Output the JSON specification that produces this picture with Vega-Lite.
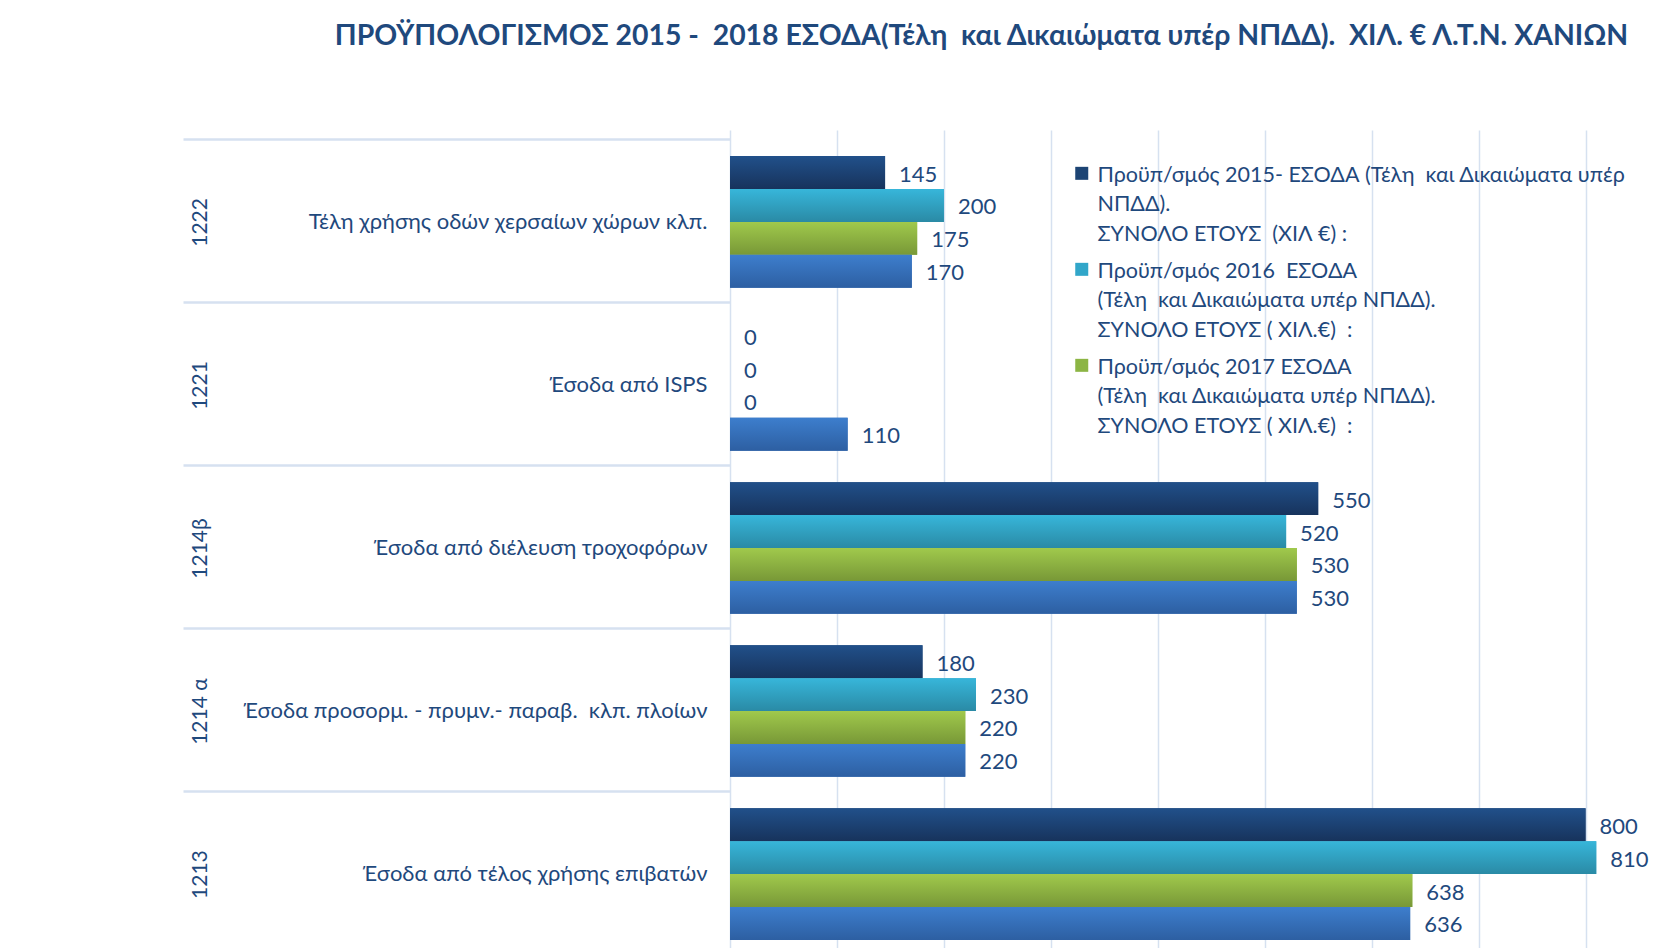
{
  "$schema": "https://vega.github.io/schema/vega-lite/v6.json",
  "autosize": "none",
  "padding": {"left": 730, "top": 139, "right": 0, "bottom": 0},
  "width": 947,
  "height": 809,
  "background": "white",
  "config": {
    "font": "Lato, Noto Sans, sans-serif",
    "view": {"stroke": null},
    "style": {"guide-label": {"lineHeight": 29.5}}
  },
  "title": {
    "text": "ΠΡΟΫΠΟΛΟΓΙΣΜΟΣ 2015 - \u00a02018 ΕΣΟΔΑ(Τέλη \u00a0και Δικαιώματα υπέρ ΝΠΔΔ). \u00a0ΧΙΛ. € Λ.Τ.Ν. ΧΑΝΙΩΝ",
    "anchor": "middle",
    "frame": "group",
    "dx": -222,
    "offset": 86.5,
    "fontSize": 28.4,
    "fontWeight": "bold",
    "color": "#1f497d"
  },
  "data": {
    "values": [
      {"cat": "1222|Τέλη χρήσης οδών χερσαίων χώρων κλπ.", "series": "2015", "value": 145},
      {"cat": "1222|Τέλη χρήσης οδών χερσαίων χώρων κλπ.", "series": "2016", "value": 200},
      {"cat": "1222|Τέλη χρήσης οδών χερσαίων χώρων κλπ.", "series": "2017", "value": 175},
      {"cat": "1222|Τέλη χρήσης οδών χερσαίων χώρων κλπ.", "series": "2018", "value": 170},
      {"cat": "1221|Έσοδα από ISPS", "series": "2015", "value": 0},
      {"cat": "1221|Έσοδα από ISPS", "series": "2016", "value": 0},
      {"cat": "1221|Έσοδα από ISPS", "series": "2017", "value": 0},
      {"cat": "1221|Έσοδα από ISPS", "series": "2018", "value": 110},
      {"cat": "1214β|Έσοδα από διέλευση τροχοφόρων", "series": "2015", "value": 550},
      {"cat": "1214β|Έσοδα από διέλευση τροχοφόρων", "series": "2016", "value": 520},
      {"cat": "1214β|Έσοδα από διέλευση τροχοφόρων", "series": "2017", "value": 530},
      {"cat": "1214β|Έσοδα από διέλευση τροχοφόρων", "series": "2018", "value": 530},
      {"cat": "1214 α|Έσοδα προσορμ. - πρυμν.- παραβ. \u00a0κλπ. πλοίων", "series": "2015", "value": 180},
      {"cat": "1214 α|Έσοδα προσορμ. - πρυμν.- παραβ. \u00a0κλπ. πλοίων", "series": "2016", "value": 230},
      {"cat": "1214 α|Έσοδα προσορμ. - πρυμν.- παραβ. \u00a0κλπ. πλοίων", "series": "2017", "value": 220},
      {"cat": "1214 α|Έσοδα προσορμ. - πρυμν.- παραβ. \u00a0κλπ. πλοίων", "series": "2018", "value": 220},
      {"cat": "1213|Έσοδα από τέλος χρήσης επιβατών", "series": "2015", "value": 800},
      {"cat": "1213|Έσοδα από τέλος χρήσης επιβατών", "series": "2016", "value": 810},
      {"cat": "1213|Έσοδα από τέλος χρήσης επιβατών", "series": "2017", "value": 638},
      {"cat": "1213|Έσοδα από τέλος χρήσης επιβατών", "series": "2018", "value": 636}
    ]
  },
  "encoding": {
    "y": {
      "field": "cat", "type": "nominal",
      "sort": ["1222|Τέλη χρήσης οδών χερσαίων χώρων κλπ.", "1221|Έσοδα από ISPS", "1214β|Έσοδα από διέλευση τροχοφόρων", "1214 α|Έσοδα προσορμ. - πρυμν.- παραβ. \u00a0κλπ. πλοίων", "1213|Έσοδα από τέλος χρήσης επιβατών"],
      "scale": {"range": [0, 818], "paddingInner": 0.193, "paddingOuter": 0.105},
      "axis": null
    },
    "yOffset": {"field": "series", "type": "nominal", "scale": {"paddingInner": 0, "paddingOuter": 0}},
    "x": {
      "field": "value", "type": "quantitative",
      "scale": {"domain": [0, 885.5], "nice": false, "zero": true},
      "axis": {"values": [0, 100, 200, 300, 400, 500, 600, 700, 800], "labels": false, "ticks": false, "domain": false, "grid": true, "gridColor": "#d6e1f0", "gridWidth": 1.5, "title": null}
    }
  },
  "layer": [
    {
      "mark": {"type": "bar"},
      "encoding": {
        "y": {
          "field": "cat", "type": "nominal",
          "sort": ["1222|Τέλη χρήσης οδών χερσαίων χώρων κλπ.", "1221|Έσοδα από ISPS", "1214β|Έσοδα από διέλευση τροχοφόρων", "1214 α|Έσοδα προσορμ. - πρυμν.- παραβ. \u00a0κλπ. πλοίων", "1213|Έσοδα από τέλος χρήσης επιβατών"],
          "scale": {"range": [0, 818], "paddingInner": 0.193, "paddingOuter": 0.105},
          "axis": {
            "orient": "left",
            "labelExpr": "split(datum.value, '|')[1]",
            "ticks": false,
            "labelPadding": 23,
            "labelAlign": "right",
            "labelBaseline": "middle",
            "labelFontSize": 22,
            "labelColor": "#1f497d",
            "domain": false,
            "grid": false,
            "title": null,
            "labelLimit": 0
          }
        },
        "color": {
          "field": "series", "type": "nominal",
          "scale": {"domain": ["2015", "2016", "2017", "2018"], "range": ["#1d4474", "#31a6c9", "#8cb544", "#366fba"]},
          "legend": {
            "orient": "none",
            "legendX": 341,
            "legendY": 15,
            "title": null,
            "values": ["2015", "2016", "2017"],
            "labelExpr": "datum.value == '2015' ? ['Προϋπ/σμός 2015- ΕΣΟΔΑ (Τέλη \u00a0και Δικαιώματα υπέρ', 'ΝΠΔΔ).', 'ΣΥΝΟΛΟ ΕΤΟΥΣ \u00a0(ΧΙΛ €) :'] : datum.value == '2016' ? ['Προϋπ/σμός 2016 \u00a0ΕΣΟΔΑ', '(Τέλη \u00a0και Δικαιώματα υπέρ ΝΠΔΔ).', '\u00a0ΣΥΝΟΛΟ ΕΤΟΥΣ ( ΧΙΛ.€) \u00a0:'] : ['Προϋπ/σμός 2017 ΕΣΟΔΑ', '(Τέλη \u00a0και Δικαιώματα υπέρ ΝΠΔΔ).', 'ΣΥΝΟΛΟ ΕΤΟΥΣ ( ΧΙΛ.€) \u00a0:']",
            "labelFontSize": 21.5,
            "labelColor": "#1f497d",
            "labelBaseline": "top",
            "labelLimit": 0,
            "labelOffset": 5,
            "symbolType": "M-1,0.32H1V2.32H-1Z",
            "symbolSize": 169,
            "symbolStrokeWidth": 0,
            "rowPadding": 4
          }
        }
      }
    },
    {
      "transform": [{"filter": "datum.series == '2015'"}],
      "mark": {"type": "bar", "fill": {"gradient": "linear", "x1": 0, "y1": 0, "x2": 0, "y2": 1, "stops": [{"offset": 0, "color": "#21508a"}, {"offset": 1, "color": "#17335c"}]}}
    },
    {
      "transform": [{"filter": "datum.series == '2016'"}],
      "mark": {"type": "bar", "fill": {"gradient": "linear", "x1": 0, "y1": 0, "x2": 0, "y2": 1, "stops": [{"offset": 0, "color": "#37b6da"}, {"offset": 1, "color": "#2a8aa5"}]}}
    },
    {
      "transform": [{"filter": "datum.series == '2017'"}],
      "mark": {"type": "bar", "fill": {"gradient": "linear", "x1": 0, "y1": 0, "x2": 0, "y2": 1, "stops": [{"offset": 0, "color": "#a0c94c"}, {"offset": 1, "color": "#789837"}]}}
    },
    {
      "transform": [{"filter": "datum.series == '2018'"}],
      "mark": {"type": "bar", "fill": {"gradient": "linear", "x1": 0, "y1": 0, "x2": 0, "y2": 1, "stops": [{"offset": 0, "color": "#3d7ecd"}, {"offset": 1, "color": "#2d5fa2"}]}}
    },
    {
      "mark": {"type": "text", "align": "left", "baseline": "middle", "dx": 14, "dy": 2, "fontSize": 22, "color": "#1f497d"},
      "encoding": {
        "text": {"field": "value", "type": "quantitative"},
        "y": {
          "field": "cat", "type": "nominal",
          "sort": ["1222|Τέλη χρήσης οδών χερσαίων χώρων κλπ.", "1221|Έσοδα από ISPS", "1214β|Έσοδα από διέλευση τροχοφόρων", "1214 α|Έσοδα προσορμ. - πρυμν.- παραβ. \u00a0κλπ. πλοίων", "1213|Έσοδα από τέλος χρήσης επιβατών"],
          "scale": {"range": [0, 818], "paddingInner": 0.193, "paddingOuter": 0.105},
          "axis": {
            "orient": "left",
            "labelExpr": "split(datum.value, '|')[0]",
            "labelAngle": 270,
            "labelAlign": "center",
            "labelBaseline": "middle",
            "ticks": true,
            "tickSize": 547,
            "tickOffset": -82.9,
            "labelOffset": 82.9,
            "tickColor": "#d6e1f0",
            "tickWidth": 2.5,
            "labelPadding": -17,
            "domain": false,
            "grid": false,
            "labelFontSize": 21,
            "labelColor": "#1f497d",
            "title": null,
            "labelLimit": 0
          }
        }
      }
    }
  ],
  "resolve": {"axis": {"y": "independent"}}
}
